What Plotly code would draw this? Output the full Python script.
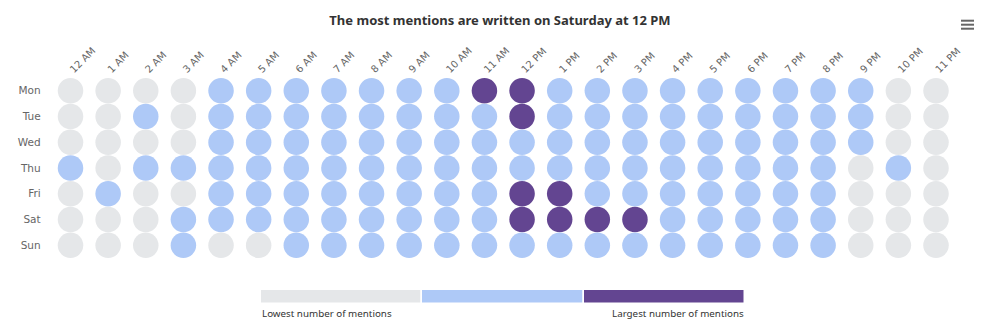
import plotly.graph_objects as go

W, H = 1000, 326

hours = ["12 AM", "1 AM", "2 AM", "3 AM", "4 AM", "5 AM", "6 AM", "7 AM", "8 AM", "9 AM",
         "10 AM", "11 AM", "12 PM", "1 PM", "2 PM", "3 PM", "4 PM", "5 PM", "6 PM", "7 PM",
         "8 PM", "9 PM", "10 PM", "11 PM"]
days = ["Mon", "Tue", "Wed", "Thu", "Fri", "Sat", "Sun"]

# 0 = lowest, 1 = medium, 2 = largest number of mentions
mon = [0, 0, 0, 0, 1, 1, 1, 1, 1, 1, 1, 2, 2, 1, 1, 1, 1, 1, 1, 1, 1, 1, 0, 0]
tue = [0, 0, 1, 0, 1, 1, 1, 1, 1, 1, 1, 1, 2, 1, 1, 1, 1, 1, 1, 1, 1, 1, 0, 0]
wed = [0, 0, 0, 0, 1, 1, 1, 1, 1, 1, 1, 1, 1, 1, 1, 1, 1, 1, 1, 1, 1, 1, 0, 0]
thu = [1, 0, 1, 1, 1, 1, 1, 1, 1, 1, 1, 1, 1, 1, 1, 1, 1, 1, 1, 1, 1, 0, 1, 0]
fri = [0, 1, 0, 0, 1, 1, 1, 1, 1, 1, 1, 1, 2, 2, 1, 1, 1, 1, 1, 1, 1, 0, 0, 0]
sat = [0, 0, 0, 1, 1, 1, 1, 1, 1, 1, 1, 1, 2, 2, 2, 2, 1, 1, 1, 1, 1, 0, 0, 0]
sun = [0, 0, 0, 1, 0, 0, 1, 1, 1, 1, 1, 1, 1, 1, 1, 1, 1, 1, 1, 1, 1, 0, 0, 0]
levels = [mon, tue, wed, thu, fri, sat, sun]

level_colors = ["#e5e7e9", "#aec9f7", "#634591"]
legend_labels = ["Lowest number of mentions", "Largest number of mentions"]
title_text = "The most mentions are written on Saturday at 12 PM"

FONT = "DejaVu Sans"
TFONT = "Noto Sans"

xs, ys, cs = [], [], []
for d, row in zip(days, levels):
    for h, v in zip(hours, row):
        xs.append(h)
        ys.append(d)
        cs.append(level_colors[v])

fig = go.Figure()
fig.add_trace(go.Scatter(
    x=xs, y=ys, mode="markers",
    marker=dict(size=25.5, color=cs, line=dict(width=0)),
    hoverinfo="x+y", showlegend=False, xaxis="x", yaxis="y",
))

# legend bar
fig.add_trace(go.Bar(
    x=[1, 1, 1], base=[0, 1, 2], y=["scale"] * 3, orientation="h", width=1,
    marker=dict(color=level_colors, line=dict(color="white", width=1.5)),
    hoverinfo="skip", showlegend=False, xaxis="x2", yaxis="y2",
))

def px_x(v):
    return v / W

def px_y(v):
    return 1 - v / H

col0, coln = 70.5, 936.0
step_x = (coln - col0) / 23
row0, rown = 90.8, 245.3
step_y = (rown - row0) / 6

fig.update_layout(
    template="none",
    width=W, height=H,
    margin=dict(l=0, r=0, t=0, b=0, pad=0, autoexpand=False),
    paper_bgcolor="white", plot_bgcolor="white",
    font=dict(family=FONT, color="#666666"),
    title=dict(text="<b>" + title_text + "</b>", x=0.5, xanchor="center",
               y=px_y(20.5), yanchor="middle", yref="paper",
               font=dict(family=TFONT, size=13, color="#333333")),
    xaxis=dict(
        domain=[px_x(col0 - step_x / 2), px_x(coln + step_x / 2)],
        type="category", categoryorder="array", categoryarray=hours,
        range=[-0.5, 23.5], side="top", tickangle=-45, automargin=False,
        showgrid=False, zeroline=False, showline=False, ticks="",
        tickfont=dict(size=10, color="#666666"), fixedrange=True,
    ),
    yaxis=dict(
        domain=[px_y(rown + step_y / 2), px_y(row0 - step_y / 2)],
        type="category", categoryorder="array", categoryarray=days,
        range=[6.5, -0.5], automargin=False,
        showgrid=False, zeroline=False, showline=False, ticks="",
        tickfont=dict(size=10.5, color="#666666"), fixedrange=True,
        ticklabelstandoff=10,
    ),
    xaxis2=dict(domain=[px_x(261), px_x(745)], range=[0, 3], visible=False,
                fixedrange=True, anchor="y2", automargin=False),
    yaxis2=dict(domain=[px_y(304), px_y(290)], visible=False, fixedrange=True,
                anchor="x2", automargin=False),
    bargap=0,
    annotations=[
        dict(text=legend_labels[0], x=px_x(260), y=px_y(313), xref="paper", yref="paper",
             xanchor="left", yanchor="middle", showarrow=False,
             font=dict(family=TFONT, size=9.8, color="#333333")),
        dict(text=legend_labels[1], x=px_x(746), y=px_y(313), xref="paper", yref="paper",
             xanchor="right", yanchor="middle", showarrow=False,
             font=dict(family=TFONT, size=9.8, color="#333333")),
    ],
    shapes=[
        dict(type="line", xref="paper", yref="paper",
             x0=px_x(961), x1=px_x(974), y0=px_y(yy), y1=px_y(yy),
             line=dict(color="#666666", width=2))
        for yy in (20.7, 24.7, 28.7)
    ],
)

fig.write_html("out.html", config={"displayModeBar": False})
